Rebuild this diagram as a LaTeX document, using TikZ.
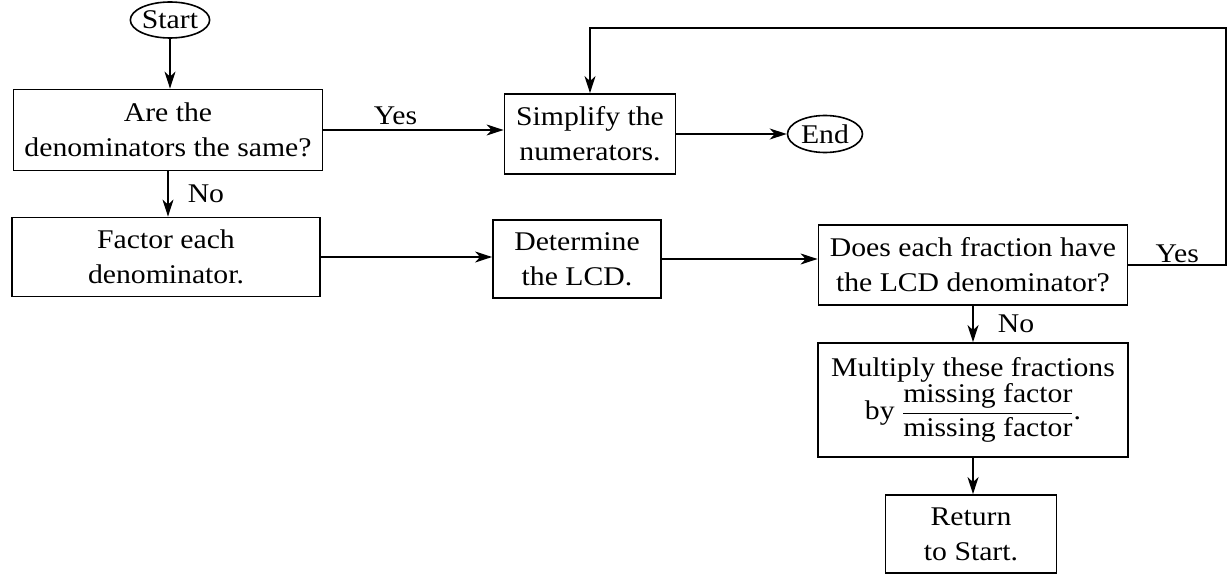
\documentclass[tikz,border=0pt]{standalone}
\usepackage{amsmath}
\usepackage{fontspec}
\setmainfont[FakeStretch=1.1]{Liberation Serif}
\usetikzlibrary{shapes.geometric,arrows.meta}
\begin{document}
\begin{tikzpicture}[x=1pt,y=-1pt,
  font=\fontsize{27}{35}\selectfont,
  box/.style={draw, line width=1.8pt, inner sep=0pt, align=center},
  oval/.style={draw, ellipse, line width=1.6pt, inner sep=0pt},
  conn/.style={line width=1.6pt},
  arr/.style={conn,-{Stealth[length=17pt,width=11pt,inset=5pt]}},
  lbl/.style={inner sep=0pt}]
\useasboundingbox (0,0) rectangle (1228,575);

\node[oval, minimum width=76pt, minimum height=36pt] (start) at (170,20) {Start};
\node[box, minimum width=309pt, minimum height=81pt] (b1) at (168,130) {Are the\\denominators the same?};
\node[box, minimum width=171pt, minimum height=80pt] (simp) at (590,134) {Simplify the\\numerators.};
\node[oval, minimum width=75pt, minimum height=37pt] (end) at (825,134) {End};
\node[box, minimum width=308pt, minimum height=79pt] (b2) at (166,257) {Factor each\\denominator.};
\node[box, minimum width=168pt, minimum height=78pt] (det) at (577,259) {Determine\\the LCD.};
\node[box, minimum width=309pt, minimum height=80pt] (does) at (973,265) {Does each fraction have\\the LCD denominator?};
\node[box, minimum width=310pt, minimum height=114pt] (mult) at (973,400) {Multiply these fractions\\by $\dfrac{\text{missing factor}}{\text{missing factor}}$.};
\node[box, minimum width=171pt, minimum height=78pt] (ret) at (971,534) {Return\\to Start.};
\coordinate (top) at (1226,28);

\draw[arr] (start.south) -- (start.south |- b1.north);
\draw[arr] (b1.east) -- node[lbl, above=4pt, pos=0.4] {Yes} (b1.east -| simp.west);
\draw[arr] (simp.east) -- (end.west);
\draw[arr] (b1.south) -- node[lbl, right=19pt] {No} (b1.south |- b2.north);
\draw[arr] (b2.east) -- (b2.east -| det.west);
\draw[arr] (det.east) -- (det.east -| does.west);
\draw[arr] (does.east) -- node[lbl, above=1pt] {Yes} (does.east -| top) -- (top) -- (top -| simp.north) -- (simp.north);
\draw[arr] (does.south) -- node[lbl, right=24pt] {No} (mult.north);
\draw[arr] (mult.south) -- (mult.south |- ret.north);
\end{tikzpicture}
\end{document}
